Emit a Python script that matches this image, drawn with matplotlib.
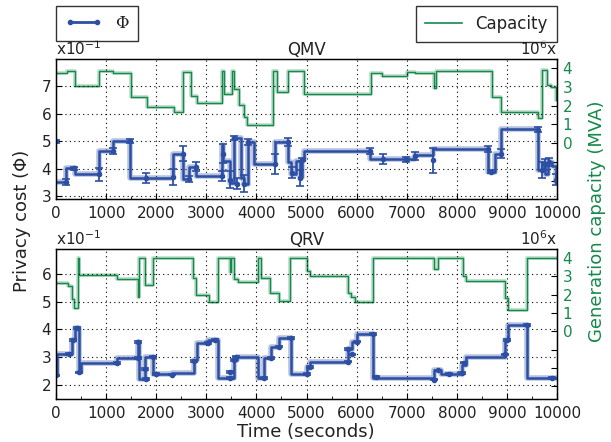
import numpy as np
import matplotlib
matplotlib.use("Agg")
import matplotlib.pyplot as plt
from matplotlib.lines import Line2D
from matplotlib.ticker import MultipleLocator, FixedLocator, FuncFormatter

# ---------------- data ----------------
# QMV privacy cost (step, level starts at time t), x10^-1
qmv_phi_t = [0, 200, 379, 858, 1144, 1477, 2329, 2528, 2662, 2795, 3320, 3340, 3473,
             3553, 3687, 3753, 3833, 3953, 4371, 4637, 4700, 4800, 4870, 4916, 4958,
             6267, 7166, 7531, 8630, 8680, 8762, 8882, 9627, 9700, 9760, 9830, 9900,
             9973, 10000]
qmv_phi_v = [3.52, 4.01, 3.79, 4.65, 5.01, 3.65, 4.55, 3.62, 4.07, 3.74, 4.85, 4.28, 3.46,
             5.12, 3.65, 3.45, 4.97, 4.16, 4.97, 4.23, 3.80, 4.28, 3.70, 4.32, 4.65,
             4.34, 4.50, 4.71, 3.89, 3.87, 4.55, 5.43, 3.95, 4.20, 3.80, 4.25, 4.10,
             3.52, 3.52]
# QMV sample points with error bars
qmv_pt_t = [0, 200, 359, 858, 1144, 1477, 1796, 2329, 2528, 2662, 2795, 3320, 3330,
            3473, 3553, 3620, 3753, 3833, 4371, 4637, 4720, 4870, 4916, 6267, 6521,
            6986, 7166, 7531, 8630, 8680, 8882, 9627, 9700, 9760, 9850, 9990]
qmv_pt_v = [5.00, 3.52, 4.01, 3.80, 4.65, 5.01, 3.65, 3.70, 4.55, 3.62, 4.07, 3.74, 4.55,
            3.60, 5.12, 3.45, 3.45, 4.97, 4.16, 4.97, 3.85, 3.65, 4.32, 4.65, 4.34,
            4.34, 4.45, 4.30, 4.72, 3.89, 4.55, 5.42, 3.95, 4.15, 4.25, 3.60]
qmv_pt_e = [0.05, 0.10, 0.06, 0.24, 0.12, 0.08, 0.18, 0.29, 0.29, 0.10, 0.17, 0.18, 0.35,
            0.30, 0.06, 0.20, 0.30, 0.10, 0.36, 0.15, 0.20, 0.30, 0.05, 0.12, 0.18,
            0.10, 0.15, 0.45, 0.12, 0.05, 0.15, 0.10, 0.30, 0.20, 0.15, 0.20]
# QMV generation capacity (step), x10^6
qmv_cap_t = [0, 213, 379, 858, 1144, 1490, 1810, 2349, 2541, 2688, 2821, 3320, 3353,
             3507, 3553, 3653, 3752, 3806, 4325, 4405, 4637, 4944, 6282, 6501, 7000,
             7166, 7552, 7575, 8696, 8882, 9627, 9707, 9794, 9874, 9973, 10000]
qmv_cap_v = [3.73, 3.86, 3.07, 3.86, 3.73, 2.45, 1.95, 1.69, 3.82, 2.52, 2.13, 3.86, 2.61,
             3.86, 2.90, 2.04, 1.39, 0.98, 3.86, 2.75, 3.87, 2.61, 3.73, 3.61, 3.82,
             3.73, 2.93, 3.87, 2.49, 1.65, 1.33, 3.91, 3.11, 2.99, 2.31, 2.31]

# QRV privacy cost
qrv_phi_t = [0, 20, 313, 379, 466, 490, 1212, 1643, 1663, 1776, 1930, 2309, 2754, 2808,
             3040, 3240, 3560, 3607, 4030, 4142, 4291, 4451, 4691, 5004, 5070, 5834,
             5904, 6004, 6333, 7552, 7685, 7864, 8110, 8177, 8962, 9028, 9395, 10000]
qrv_phi_v = [2.34, 3.11, 3.62, 4.04, 2.45, 2.78, 2.96, 3.55, 2.20, 3.02, 2.40, 2.42, 2.88,
             3.50, 3.62, 2.24, 2.90, 3.02, 2.24, 2.96, 3.38, 3.68, 2.40, 2.64, 2.84, 3.29,
             3.56, 3.84, 2.24, 2.52, 2.38, 2.40, 2.72, 3.02, 3.62, 4.16, 2.24, 2.24]
qrv_pt_t = [0, 266, 346, 426, 466, 1212, 1643, 1643, 1776, 1790, 1930, 1996, 2309, 2754,
            3040, 3174, 3473, 3480, 3560, 3600, 4142, 4291, 4451, 4691, 5004, 5060,
            5834, 5834, 5904, 6004, 6333, 6380, 7552, 7632, 7846, 8110, 8150, 8962,
            9010, 9395, 9894]
qrv_pt_v = [2.34, 3.11, 3.62, 4.04, 2.45, 2.78, 2.96, 3.55, 2.58, 2.20, 3.02, 2.40, 2.37,
            2.86, 3.50, 3.62, 2.46, 2.24, 2.90, 3.02, 2.24, 2.96, 3.38, 3.68, 2.40, 2.64,
            2.84, 3.29, 3.10, 3.56, 3.84, 2.30, 2.19, 2.52, 2.38, 2.42, 2.80, 3.10,
            3.62, 4.16, 2.24]
qrv_pt_e = [0.03] * len(qrv_pt_t)
# QRV generation capacity
qrv_cap_t = [0, 246, 313, 366, 433, 466, 1212, 1643, 1663, 1776, 1930, 2728, 2794, 3060,
             3240, 3473, 3500, 3560, 3639, 4030, 4092, 4271, 4451, 4671, 5004, 5070,
             5834, 5888, 5968, 6333, 7552, 7632, 8117, 8177, 8962, 9028, 9395, 10000]
qrv_cap_v = [2.65, 2.47, 1.78, 1.30, 4.00, 3.10, 2.88, 1.89, 4.00, 2.56, 4.00, 2.92, 1.96,
             1.62, 4.00, 3.23, 4.00, 2.86, 2.69, 4.00, 2.92, 2.11, 1.66, 4.00, 3.28, 3.01,
             2.07, 1.88, 1.61, 4.00, 3.41, 4.00, 3.04, 2.74, 1.84, 1.17, 4.00, 4.00]

x_ticks = [0, 1000, 2000, 3000, 4000, 5000, 6000, 7000, 8000, 9000, 10000]
titles = ["QMV", "QRV"]

BLUE = "#2c4fa3"
GREEN = "#168a4a"
TXT = "#222222"

plt.rcParams["font.family"] = ["DejaVu Sans"]
plt.rcParams["text.color"] = TXT
plt.rcParams["xtick.labelcolor"] = TXT
plt.rcParams["ytick.labelcolor"] = TXT
fig = plt.figure(figsize=(6.11, 4.42), dpi=100)

W, H = 611.0, 442.0
boxes = [(56, 59, 557, 199.3), (56, 249, 557, 398.7)]
ylims = [(2.88, 8.0), (1.5, 6.9)]
rlims = [(-3.0, 4.5), (-3.68, 4.5)]
left_ticks = [[3, 4, 5, 6, 7], [2, 3, 4, 5, 6]]

panels = [
    (qmv_phi_t, qmv_phi_v, qmv_pt_t, qmv_pt_v, qmv_pt_e, qmv_cap_t, qmv_cap_v),
    (qrv_phi_t, qrv_phi_v, qrv_pt_t, qrv_pt_v, qrv_pt_e, qrv_cap_t, qrv_cap_v),
]

for i, (pt, pv, mt, mv, me, ct, cv) in enumerate(panels):
    l, t, r, b = boxes[i]
    ax = fig.add_axes([l / W, 1 - b / H, (r - l) / W, (b - t) / H])
    ax2 = ax.twinx()
    ax.set_zorder(ax2.get_zorder() + 1)
    ax.patch.set_visible(False)

    # capacity
    ax2.step(ct, cv, where="post", color=GREEN, lw=2.6, alpha=0.3)
    ax2.step(ct, cv, where="post", color=GREEN, lw=1.0)
    ax2.set_ylim(*rlims[i])
    ax2.yaxis.set_major_locator(FixedLocator([-3, -2, -1, 0, 1, 2, 3, 4]))
    ax2.yaxis.set_major_formatter(FuncFormatter(lambda v, p: "%d" % v if v >= 0 else ""))
    ax2.tick_params(axis="y", direction="in", colors="black", labelcolor=GREEN,
                    labelsize=11, length=4, pad=4)

    # privacy cost
    ax.step(pt, pv, where="post", color=BLUE, lw=4.0, alpha=0.35)
    ax.step(pt, pv, where="post", color=BLUE, lw=1.8)
    ax.errorbar(mt, mv, yerr=me, fmt="o", color=BLUE, ms=3, elinewidth=1.3,
                capsize=3, capthick=1.2)
    ax.set_xlim(0, 10000)
    ax.set_ylim(*ylims[i])
    ax.set_yticks(left_ticks[i])
    ax.set_xticks(x_ticks)
    ax.xaxis.set_minor_locator(MultipleLocator(500))
    ax.grid(True, which="major", color="black", linestyle=(0, (1, 3)), lw=0.8)
    ax.tick_params(axis="both", which="both", direction="in", labelsize=11)
    ax.tick_params(axis="x", which="major", length=4, pad=5)
    ax.tick_params(axis="x", which="minor", length=2)
    ax.tick_params(axis="y", length=4)
    for s in ax.spines.values():
        s.set_linewidth(1.0)
    ax.set_title(titles[i], fontsize=12, pad=3)
    ax.text(0.0, 1.01, r"x10$^{-1}$", transform=ax.transAxes, ha="left", va="bottom",
            fontsize=11)
    ax.text(1.0, 1.01, r"10$^{6}$x", transform=ax.transAxes, ha="right", va="bottom",
            fontsize=11)

fig.text(22 / W, 1 - 221 / H, "Privacy cost (\u03a6)", rotation=90, ha="center",
         va="center", fontsize=13)
fig.text(597 / W, 1 - 221 / H, "Generation capacity (MVA)", rotation=90, ha="center",
         va="center", fontsize=13, color=GREEN)
fig.text(306 / W, 1 - 432 / H, "Time (seconds)", ha="center", va="center", fontsize=13)

h1 = Line2D([0], [0], color=BLUE, lw=2, marker="o", ms=3)
h2 = Line2D([0], [0], color=GREEN, lw=1.2)
leg1 = fig.legend([h1], ["\u03a6"], loc="upper left", bbox_to_anchor=(56 / W, 1 - 6 / H),
                  numpoints=2, fancybox=False, edgecolor="black",
                  prop={"family": "DejaVu Serif", "size": 12},
                  handlelength=2.2, borderaxespad=0, borderpad=0.55)
leg1.get_frame().set_linewidth(1.0)
leg2 = fig.legend([h2], ["Capacity"], loc="upper right",
                  bbox_to_anchor=(557 / W, 1 - 6 / H), fancybox=False, edgecolor="black",
                  fontsize=12, handlelength=2.2, borderaxespad=0, borderpad=0.55)
leg2.get_frame().set_linewidth(1.0)

fig.savefig("out.png", dpi=100)
